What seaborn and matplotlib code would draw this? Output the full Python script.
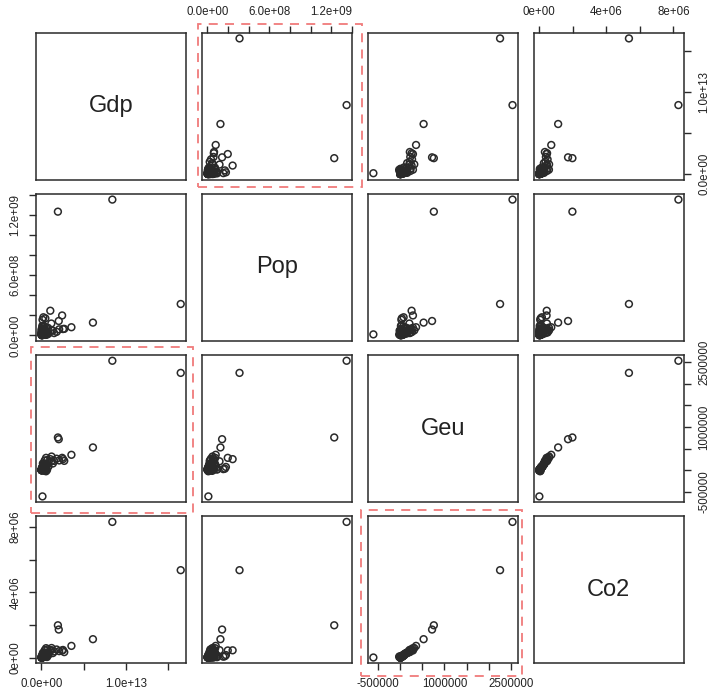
import numpy as np
import pandas as pd
import matplotlib
matplotlib.use("Agg")
import matplotlib.pyplot as plt
import matplotlib.patches as mpatches
import seaborn as sns

# country-level values
gdp = [8.4e12, 1.65e13, 1.95e12, 2.05e12, 6.1e12, 3.55e12, 2.45e12, 1.05e12,
       2.55e12, 2.7e12, 2.1e12, 1.8e12, 1.2e12, 1.17e12, 1.5e12, 1.35e12,
       5.5e11, 7.0e11, 3.9e11, 7.9e11, 1.7e11, 5.0e11, 3.7e11, 2.0e11,
       2.6e11, 6.0e11, 3.8e11, 3.0e11, 2.3e11, 4.6e11, 1.3e11, 1.6e11,
       2.5e11, 8.3e11, 5.0e11, 5.4e11, 6.6e11, 5.0e11, 4.0e11, 3.7e11,
       2.7e11, 2.0e11, 2.5e11, 2.1e11, 3.7e11, 2.1e11, 5.1e10, 1.9e11,
       1.9e11, 2.6e11, 3.2e11, 2.5e11, 2.1e11, 1.2e11,
       9.0e10, 6.0e10, 4.5e10, 1.5e11, 3.0e10, 2.5e10, 7.5e10, 1.2e11,
       5.5e10, 1.0e11, 3.5e10, 4.0e10, 2.0e10, 8.0e10, 1.4e11, 6.5e10,
       1.8e11, 2.3e11, 1.3e11, 5.0e10, 4.8e10, 2.8e10, 1.7e10, 6.0e10,
       9.5e10, 1.1e11, 3.3e10, 4.2e10, 5.7e10, 2.2e10, 1.5e10, 3.8e10,
       7.0e10, 2.6e10, 1.9e10, 1.25e11, 8.5e10, 2.4e11, 1.6e11, 2.9e11]
pop = [1.35e9, 3.12e8, 1.23e9, 1.43e8, 1.27e8, 8.1e7, 1.98e8, 2.45e8,
       6.3e7, 6.5e7, 6.0e7, 3.5e7, 5.0e7, 1.18e8, 2.3e7, 4.7e7,
       7.6e7, 2.9e7, 5.2e7, 7.4e7, 4.6e7, 3.8e7, 6.7e7, 1.7e7,
       8.0e7, 4.1e7, 3.0e7, 2.9e7, 1.8e8, 1.7e8, 1.55e8, 8.9e7,
       9.7e7, 1.7e7, 1.1e7, 9.5e6, 8.0e6, 5.0e6, 8.4e6, 4.7e7,
       1.7e7, 1.05e7, 1.1e7, 3.8e7, 9.0e6, 3.3e7, 3.0e7, 2.0e7,
       3.0e7, 7.9e6, 5.6e6, 5.4e6, 1.05e7, 1.0e7,
       2.2e7, 1.5e7, 9.0e6, 2.5e7, 3.4e7, 1.3e7, 6.5e6, 4.5e6,
       2.7e7, 9.4e7, 4.4e7, 6.5e7, 5.3e7, 2.4e7, 3.2e7, 8.0e6,
       4.2e6, 4.6e6, 5.4e6, 3.6e6, 7.3e6, 1.7e7, 1.0e7, 1.1e7,
       1.6e7, 2.8e7, 2.1e6, 3.0e6, 1.3e6, 4.1e6, 2.4e7, 1.4e7,
       3.9e6, 9.5e6, 5.7e6, 1.9e7, 4.0e7, 1.9e7, 6.0e7, 4.0e7]
geu = [2.53e6, 2.25e6, 7.6e5, 7.2e5, 5.3e5, 3.6e5, 2.9e5, 2.6e5,
       2.6e5, 2.2e5, 2.3e5, 2.7e5, 3.2e5, 2.1e5, 2.2e5, 1.6e5,
       2.9e5, 2.4e5, 2.3e5, 1.5e5, 1.6e5, 1.6e5, 1.4e5, 1.4e5,
       1.1e5, 1.0e5, 9.0e4, 1.0e5, 8.0e4, 4.0e4, 3.0e4, 7.0e4,
       3.0e4, 9.0e4, 5.0e4, -2.0e4, 1.0e4, 2.0e4, 3.0e4, -1.0e4,
       3.0e4, 6.0e4, 4.0e4, 6.0e4, 8.0e4, 5.0e4, 6.0e4, 3.0e4,
       1.0e4, 3.0e4, 1.0e4, 2.0e4, 2.0e4, -6.0e5,
       4.0e4, 2.0e4, 1.0e4, 5.0e4, 1.0e4, 5.0e3, 3.0e4, 4.0e4,
       3.0e4, 2.0e4, 1.0e4, 2.0e4, 1.0e4, 2.5e4, 7.0e4, 6.0e4,
       5.0e4, 3.0e4, 1.5e4, 1.0e4, 2.0e4, 1.5e4, 5.0e3, 2.5e4,
       3.5e4, 6.0e4, 1.0e4, 1.5e4, 2.0e4, 8.0e3, 4.0e3, 1.2e4,
       3.5e4, 2.0e4, 3.0e3, 4.5e4, 5.5e4, 8.0e4, 6.0e4, 1.0e5]
co2 = [8.3e6, 5.35e6, 1.98e6, 1.72e6, 1.13e6, 7.2e5, 4.4e5, 4.5e5,
       4.7e5, 3.4e5, 4.0e5, 5.0e5, 5.9e5, 4.6e5, 3.8e5, 2.8e5,
       5.8e5, 5.0e5, 4.6e5, 3.0e5, 2.9e5, 3.0e5, 3.0e5, 2.6e5,
       2.2e5, 1.9e5, 2.0e5, 2.2e5, 1.6e5, 9.0e4, 6.0e4, 1.5e5,
       8.0e4, 1.7e5, 1.0e5, 5.0e4, 4.0e4, 5.0e4, 6.0e4, 8.0e4,
       8.0e4, 1.1e5, 9.0e4, 1.3e5, 1.7e5, 1.2e5, 1.2e5, 8.0e4,
       5.0e4, 7.0e4, 4.0e4, 5.0e4, 5.0e4, 1.0e4,
       6.0e4, 3.0e4, 2.0e4, 7.0e4, 1.0e4, 8.0e3, 4.0e4, 6.0e4,
       5.0e4, 3.0e4, 1.5e4, 2.0e4, 1.0e4, 4.5e4, 1.0e5, 9.0e4,
       7.0e4, 4.0e4, 3.5e4, 1.5e4, 4.5e4, 2.5e4, 5.0e3, 3.5e4,
       7.5e4, 9.5e4, 1.5e4, 2.0e4, 2.5e4, 1.0e4, 5.0e3, 1.8e4,
       5.5e4, 4.0e4, 6.0e3, 8.5e4, 1.1e5, 1.4e5, 1.3e5, 1.6e5]

variables = ["Gdp", "Pop", "Geu", "Co2"]

# tick positions and the labels R printed for them
gdp_ticks = [0, 5e12, 1e13, 1.5e13]
gdp_labels = ["0.0e+00", "", "1.0e+13", ""]
pop_ticks = [0, 2e8, 4e8, 6e8, 8e8, 1e9, 1.2e9, 1.4e9]
pop_labels = ["0.0e+00", "", "", "6.0e+08", "", "", "1.2e+09", ""]
geu_ticks = [-5e5, 0, 5e5, 1e6, 1.5e6, 2e6, 2.5e6]
geu_labels = ["-500000", "", "", "1000000", "", "", "2500000"]
co2_ticks = [0, 2e6, 4e6, 6e6, 8e6]
co2_labels = ["0e+00", "", "4e+06", "", "8e+06"]

df = pd.DataFrame({"Gdp": gdp, "Pop": pop, "Geu": geu, "Co2": co2})

sns.set_style("white")
plt.rcParams["font.family"] = ["Liberation Sans", "DejaVu Sans"]
plt.rcParams["axes.xmargin"] = 0.04
plt.rcParams["axes.ymargin"] = 0.04

ink = "#2a2a2a"
g = sns.PairGrid(df, vars=variables, despine=False)
g.map_offdiag(sns.scatterplot, facecolors="none", edgecolor=ink,
              s=24, linewidth=1.1)

fig = g.figure
fig.set_size_inches(7.13, 6.96)
fig.subplots_adjust(left=0.0505, right=0.9593, top=0.9526, bottom=0.0474,
                    wspace=0.104, hspace=0.10)

ticks = {"Gdp": (gdp_ticks, gdp_labels), "Pop": (pop_ticks, pop_labels),
         "Geu": (geu_ticks, geu_labels), "Co2": (co2_ticks, co2_labels)}

n = len(variables)
for i in range(n):
    for j in range(n):
        ax = g.axes[i, j]
        ax.set_xlabel("")
        ax.set_ylabel("")
        for sp in ax.spines.values():
            sp.set_color(ink)
            sp.set_linewidth(1.1)
        ax.tick_params(which="both", bottom=False, top=False, left=False,
                       right=False, labelbottom=False, labeltop=False,
                       labelleft=False, labelright=False)
        if i == j:
            ax.text(0.5, 0.5, variables[i], transform=ax.transAxes,
                    ha="center", va="center", fontsize=17, color="#222222")

for j, var in enumerate(variables):
    t, lab = ticks[var]
    g.axes[0, j].set_xticks(t, lab)
for i, var in enumerate(variables):
    t, lab = ticks[var]
    g.axes[i, 0].set_yticks(t, lab)

tick_kw = dict(length=5, width=1, color=ink, labelsize=8.3,
               labelcolor="#222222", pad=5.5, direction="out")
for j in range(n):
    if j % 2 == 1:
        g.axes[0, j].tick_params(axis="x", top=True, labeltop=True, **tick_kw)
    else:
        g.axes[n - 1, j].tick_params(axis="x", bottom=True, labelbottom=True,
                                     **tick_kw)
for i in range(n):
    if i % 2 == 1:
        g.axes[i, 0].tick_params(axis="y", left=True, labelleft=True,
                                 labelrotation=90, **tick_kw)
        for lbl in g.axes[i, 0].get_yticklabels():
            lbl.set_va("center")
    else:
        g.axes[i, n - 1].tick_params(axis="y", right=True, labelright=True,
                                     labelrotation=90, **tick_kw)
        for lbl in g.axes[i, n - 1].get_yticklabels():
            lbl.set_va("center")

# red dashed highlight boxes (pixel extents of the reference)
W, H = 713.0, 696.0
boxes = [(198, 24, 362, 187), (31, 347, 193, 513), (361, 510, 522, 676)]
for x0, y0, x1, y1 in boxes:
    rect = mpatches.Rectangle((x0 / W, 1 - y1 / H), (x1 - x0) / W,
                              (y1 - y0) / H, transform=fig.transFigure,
                              fill=False, edgecolor="#f07b7b", linewidth=1.3,
                              linestyle=(0, (5, 4)), zorder=10)
    fig.patches.append(rect)

fig.savefig("out.png", dpi=100)
